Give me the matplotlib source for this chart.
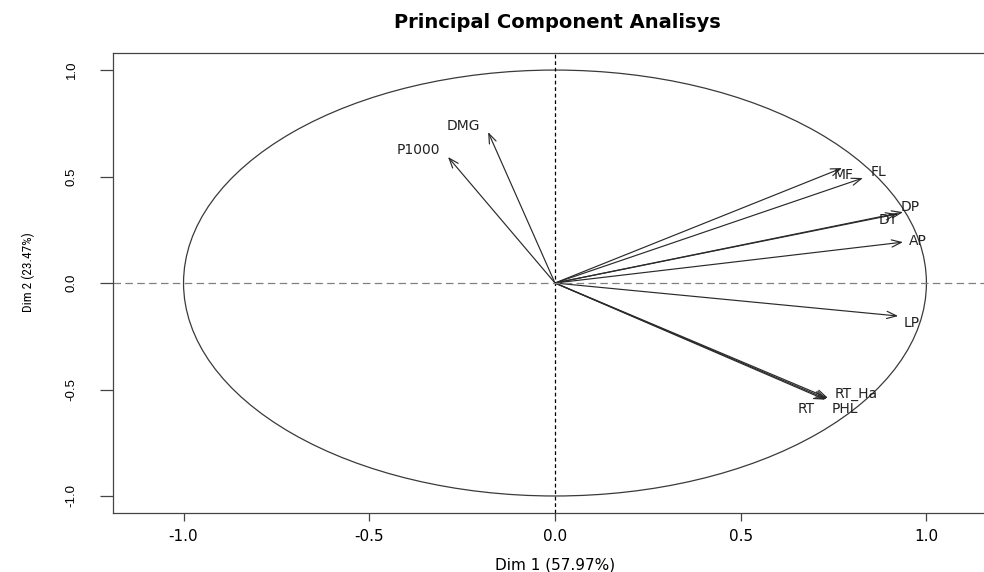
import matplotlib
matplotlib.use("Agg")
import matplotlib.pyplot as plt
from matplotlib import font_manager
from matplotlib.patches import Circle, FancyArrowPatch

# variable coordinates on the first two dimensions
variables = ["DMG", "P1000", "MF", "FL", "DP", "DT", "AP", "LP", "RT_Ha", "RT", "PHL"]
dim1 = [-0.180, -0.288, 0.773, 0.829, 0.937, 0.921, 0.937, 0.924, 0.735, 0.728, 0.732]
dim2 = [0.709, 0.592, 0.540, 0.493, 0.333, 0.324, 0.192, -0.155, -0.540, -0.548, -0.545]

# label placement (offset from arrow tip, points), like autoLab in R
label_offsets = [(-18, 4), (-21, 5), (1, -5), (11, 4), (5, 4), (-6, -4),
                 (11, 1), (10, -5), (20, 3), (-14, -7), (13, -7)]

xticks = [-1.0, -0.5, 0.0, 0.5, 1.0]
yticks = [-1.0, -0.5, 0.0, 0.5, 1.0]

plt.rcParams['axes.unicode_minus'] = False

# the rotated y label is narrow in the original; use a condensed face if there is one
installed = {f.name for f in font_manager.fontManager.ttflist}
narrow = next((n for n in ['Liberation Sans Narrow', 'Roboto Condensed',
                           'Open Sans Condensed', 'Arial Narrow'] if n in installed), None)
if narrow:
    ylab_font = dict(family=narrow, fontsize=9.5)
else:
    ylab_font = dict(family='Liberation Sans', fontsize=7.8)

fig = plt.figure(figsize=(9.84, 5.72), dpi=100)
ax = fig.add_axes([0.1148, 0.1031, 0.8984, 0.8042])
ax.set_xlim(-1.19, 1.19)
ax.set_ylim(-1.08, 1.08)

for s in ax.spines.values():
    s.set_color('#444444')
    s.set_linewidth(0.9)

ax.add_patch(Circle((0, 0), 1, fill=False, edgecolor='#3a3a3a', lw=0.9))
ax.axvline(0, color='black', lw=0.9, dashes=(3, 2.2))
ax.axhline(0, color='#808080', lw=0.9, dashes=(6, 3.5))

for name, x, y, off in zip(variables, dim1, dim2, label_offsets):
    arr = FancyArrowPatch((0, 0), (x, y), arrowstyle='->,head_length=7,head_width=2.6',
                          color='#2a2a2a', lw=0.85, shrinkA=0, shrinkB=0)
    ax.add_patch(arr)
    ax.annotate(name, (x, y), xytext=off, textcoords='offset points',
                ha='center', va='center', fontsize=10, color='#222222',
                family='DejaVu Sans')

ax.set_xticks(xticks)
ax.set_xticklabels([f"{t:.1f}" for t in xticks], fontsize=11, family='DejaVu Sans')
ax.set_yticks(yticks)
ax.set_yticklabels([f"{t:.1f}" for t in yticks], fontsize=9.5, rotation=90,
                   va='center', family='Liberation Sans')
ax.tick_params(axis='x', length=5.8, width=0.9, color='#444444', pad=6)
ax.tick_params(axis='y', length=9.4, width=0.9, color='#444444', pad=16)

ax.set_xlabel("Dim 1 (57.97%)", fontsize=11, family='DejaVu Sans', va='center')
ax.xaxis.set_label_coords(0.5, -0.113)
ax.set_ylabel("Dim 2 (23.47%)", va='center', **ylab_font)
ax.yaxis.set_label_coords(-0.096, 0.524)

fig.text(557 / 984, 1 - 28 / 572, "Principal Component Analisys", ha='center',
         va='baseline', fontsize=14, fontweight='bold', family='DejaVu Sans')

plt.savefig("out.png", dpi=100)
